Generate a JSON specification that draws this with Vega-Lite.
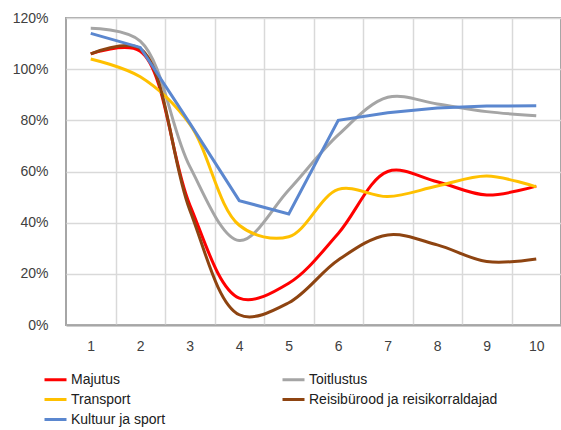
{
  "$schema": "https://vega.github.io/schema/vega-lite/v6.json",
  "width": 495,
  "height": 307,
  "autosize": "none",
  "padding": {"left": 66, "top": 18, "right": 0, "bottom": 105},
  "background": "white",
  "config": {
    "font": "Liberation Sans",
    "view": {"stroke": "#A6A6A6", "strokeWidth": 2},
    "axis": {"labelColor": "#404040", "labelFontSize": 14, "labelFont": "Liberation Sans"}
  },
  "data": {"values": [
    {"x": 1, "v": 1.06, "s": "Majutus"},
    {"x": 2, "v": 1.07, "s": "Majutus"},
    {"x": 3, "v": 0.47, "s": "Majutus"},
    {"x": 4, "v": 0.105, "s": "Majutus"},
    {"x": 5, "v": 0.163, "s": "Majutus"},
    {"x": 6, "v": 0.358, "s": "Majutus"},
    {"x": 7, "v": 0.60, "s": "Majutus"},
    {"x": 8, "v": 0.56, "s": "Majutus"},
    {"x": 9, "v": 0.508, "s": "Majutus"},
    {"x": 10, "v": 0.543, "s": "Majutus"},
    {"x": 1, "v": 1.16, "s": "Toitlustus"},
    {"x": 2, "v": 1.11, "s": "Toitlustus"},
    {"x": 3, "v": 0.62, "s": "Toitlustus"},
    {"x": 4, "v": 0.33, "s": "Toitlustus"},
    {"x": 5, "v": 0.528, "s": "Toitlustus"},
    {"x": 6, "v": 0.743, "s": "Toitlustus"},
    {"x": 7, "v": 0.89, "s": "Toitlustus"},
    {"x": 8, "v": 0.864, "s": "Toitlustus"},
    {"x": 9, "v": 0.834, "s": "Toitlustus"},
    {"x": 10, "v": 0.818, "s": "Toitlustus"},
    {"x": 1, "v": 1.04, "s": "Transport"},
    {"x": 2, "v": 0.97, "s": "Transport"},
    {"x": 3, "v": 0.785, "s": "Transport"},
    {"x": 4, "v": 0.39, "s": "Transport"},
    {"x": 5, "v": 0.345, "s": "Transport"},
    {"x": 6, "v": 0.53, "s": "Transport"},
    {"x": 7, "v": 0.502, "s": "Transport"},
    {"x": 8, "v": 0.543, "s": "Transport"},
    {"x": 9, "v": 0.582, "s": "Transport"},
    {"x": 10, "v": 0.54, "s": "Transport"},
    {"x": 1, "v": 1.06, "s": "Reisibürood ja reisikorraldajad"},
    {"x": 2, "v": 1.08, "s": "Reisibürood ja reisikorraldajad"},
    {"x": 3, "v": 0.45, "s": "Reisibürood ja reisikorraldajad"},
    {"x": 4, "v": 0.04, "s": "Reisibürood ja reisikorraldajad"},
    {"x": 5, "v": 0.087, "s": "Reisibürood ja reisikorraldajad"},
    {"x": 6, "v": 0.254, "s": "Reisibürood ja reisikorraldajad"},
    {"x": 7, "v": 0.352, "s": "Reisibürood ja reisikorraldajad"},
    {"x": 8, "v": 0.313, "s": "Reisibürood ja reisikorraldajad"},
    {"x": 9, "v": 0.248, "s": "Reisibürood ja reisikorraldajad"},
    {"x": 10, "v": 0.258, "s": "Reisibürood ja reisikorraldajad"},
    {"x": 1, "v": 1.14, "s": "Kultuur ja sport"},
    {"x": 2, "v": 1.085, "s": "Kultuur ja sport"},
    {"x": 3, "v": 0.789, "s": "Kultuur ja sport"},
    {"x": 4, "v": 0.486, "s": "Kultuur ja sport"},
    {"x": 5, "v": 0.434, "s": "Kultuur ja sport"},
    {"x": 6, "v": 0.80, "s": "Kultuur ja sport"},
    {"x": 7, "v": 0.83, "s": "Kultuur ja sport"},
    {"x": 8, "v": 0.848, "s": "Kultuur ja sport"},
    {"x": 9, "v": 0.856, "s": "Kultuur ja sport"},
    {"x": 10, "v": 0.857, "s": "Kultuur ja sport"}
  ]},
  "encoding": {
    "y": {"field": "v", "type": "quantitative",
      "scale": {"domain": [0, 1.2], "nice": false},
      "axis": {"title": null, "values": [0, 0.2, 0.4, 0.6, 0.8, 1.0, 1.2], "format": ".0%",
        "domain": false, "ticks": false, "labelPadding": 18,
        "gridColor": "#D9D9D9", "gridWidth": 1.5}},
    "color": {"field": "s", "type": "nominal",
      "scale": {"domain": ["Majutus", "Toitlustus", "Transport", "Reisibürood ja reisikorraldajad", "Kultuur ja sport"],
        "range": ["#FF0000", "#A5A5A5", "#FFC000", "#8E4411", "#5B87CF"]},
      "legend": {"title": null, "orient": "none", "legendX": -23, "legendY": 349, "columns": 2,
        "columnPadding": 110, "rowPadding": 0, "symbolType": "stroke", "symbolSize": 484,
        "symbolStrokeWidth": 3, "labelFontSize": 14, "labelColor": "#202020", "labelOffset": 3,
        "labelLimit": 0, "labelFont": "Liberation Sans", "direction": "horizontal"}}
  },
  "layer": [
    {
      "transform": [{"filter": "datum.s !== 'Kultuur ja sport'"}],
      "mark": {"type": "line", "interpolate": "catmull-rom", "strokeWidth": 3},
      "encoding": {
        "x": {"field": "x", "type": "quantitative",
          "scale": {"domain": [0.5, 10.5], "nice": false, "zero": false},
          "axis": {"title": null, "values": [1, 2, 3, 4, 5, 6, 7, 8, 9, 10], "grid": false,
            "ticks": false, "domain": true, "domainColor": "#A6A6A6", "domainWidth": 2, "labelPadding": 14}}
      }
    },
    {
      "transform": [{"filter": "datum.s === 'Kultuur ja sport'"}],
      "mark": {"type": "line", "interpolate": "linear", "strokeWidth": 3},
      "encoding": {
        "x": {"field": "x", "type": "quantitative",
          "axis": {"orient": "top", "title": null, "values": [1.5, 2.5, 3.5, 4.5, 5.5, 6.5, 7.5, 8.5, 9.5],
            "labels": false, "ticks": false, "domain": false, "grid": true,
            "gridColor": "#D9D9D9", "gridWidth": 1.5}}
      }
    }
  ],
  "resolve": {"axis": {"x": "independent"}}
}
